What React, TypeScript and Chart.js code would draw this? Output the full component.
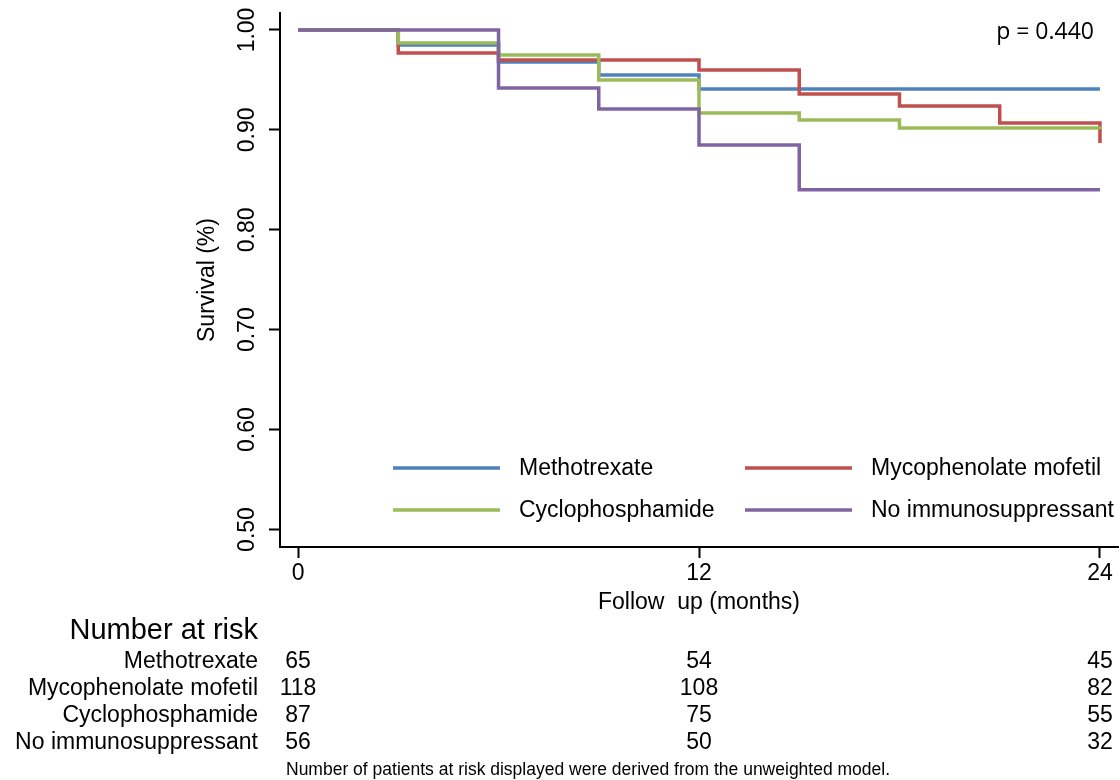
import { useEffect, useRef } from 'react';
import { Chart, registerables } from 'chart.js';

Chart.register(...registerables);

// ---- data ----
const groups = ['Methotrexate', 'Mycophenolate mofetil', 'Cyclophosphamide', 'No immunosuppressant'];
const colors = ['#4F81BD', '#C0504D', '#9BBB59', '#8064A2'];

const mtxTimes = [0, 3, 6, 9, 12, 24];
const mtxSurv = [1.0, 0.985, 0.968, 0.955, 0.941, 0.941];
const mmfTimes = [0, 3, 6, 12, 15, 18, 21, 24];
const mmfSurv = [1.0, 0.977, 0.970, 0.960, 0.936, 0.924, 0.907, 0.887];
const cycTimes = [0, 3, 6, 9, 12, 15, 18, 24];
const cycSurv = [1.0, 0.987, 0.975, 0.950, 0.917, 0.910, 0.902, 0.901];
const noneTimes = [0, 6, 9, 12, 15, 24];
const noneSurv = [1.0, 0.942, 0.921, 0.885, 0.840, 0.840];

const xTicks = [0, 12, 24];
const yTicks = [0.5, 0.6, 0.7, 0.8, 0.9, 1.0];

const riskTimes = [0, 12, 24];
const riskMtx = [65, 54, 45];
const riskMmf = [118, 108, 82];
const riskCyc = [87, 75, 55];
const riskNone = [56, 50, 32];

const pText = 'p = 0.440';
const xTitle = 'Follow  up (months)';
const yTitle = 'Survival (%)';
const riskTitle = 'Number at risk';
const footnote = 'Number of patients at risk displayed were derived from the unweighted model.';

const FONT = "'Liberation Sans', Arial, Helvetica, sans-serif";

const toPts = (t: number[], s: number[]) => t.map((x, i) => ({ x, y: s[i] }));

const overlay = {
  id: 'overlay',
  afterDraw(chart: any) {
    const ctx: CanvasRenderingContext2D = chart.ctx;
    const xs = chart.scales.x;
    ctx.save();
    ctx.fillStyle = '#000';

    // p value
    ctx.font = "23px 'Open Sans', sans-serif";
    ctx.textAlign = 'right';
    ctx.textBaseline = 'middle';
    ctx.fillText(pText, 1094, 32);

    // legend (2 columns)
    const sampleX = [393, 745];
    const textX = [519, 871];
    const rowY = [468, 510];
    ctx.font = `23px ${FONT}`;
    ctx.textAlign = 'left';
    chart.data.datasets.forEach((ds: any, i: number) => {
      const col = i % 2;
      const row = Math.floor(i / 2);
      ctx.strokeStyle = ds.borderColor;
      ctx.lineWidth = 3.5;
      ctx.beginPath();
      ctx.moveTo(sampleX[col], rowY[row]);
      ctx.lineTo(sampleX[col] + 107, rowY[row]);
      ctx.stroke();
      ctx.fillText(ds.label, textX[col], rowY[row] + 1);
    });

    // number at risk table
    ctx.textAlign = 'right';
    ctx.font = `29px ${FONT}`;
    ctx.fillText(riskTitle, 258, 631);
    const rows = [riskMtx, riskMmf, riskCyc, riskNone];
    rows.forEach((vals, i) => {
      const y = 662 + 27 * i;
      ctx.font = `23px ${FONT}`;
      ctx.textAlign = 'right';
      ctx.fillText(groups[i], 258, y);
      ctx.textAlign = 'center';
      vals.forEach((v, j) => {
        ctx.fillText(String(v), xs.getPixelForValue(riskTimes[j]), y);
      });
    });

    // footnote
    ctx.font = `17.5px ${FONT}`;
    ctx.textAlign = 'left';
    ctx.fillText(footnote, 286, 770);
    ctx.restore();
  },
};

export default function App() {
  const ref = useRef<HTMLCanvasElement>(null);
  useEffect(() => {
    const canvas = ref.current!;
    const series = [
      toPts(mtxTimes, mtxSurv),
      toPts(mmfTimes, mmfSurv),
      toPts(cycTimes, cycSurv),
      toPts(noneTimes, noneSurv),
    ];
    const chart = new Chart(canvas, {
      type: 'line',
      data: {
        datasets: series.map((d, i) => ({
          label: groups[i],
          data: d,
          borderColor: colors[i],
          backgroundColor: colors[i],
          borderWidth: 3.5,
          stepped: true,
          fill: false,
          pointRadius: 0,
          order: 4 - i,
        })),
      },
      options: {
        animation: false,
        responsive: false,
        devicePixelRatio: 1,
        layout: { padding: { left: 194, right: 2, top: 13, bottom: 164 } },
        plugins: { legend: { display: false }, tooltip: { enabled: false } },
        scales: {
          x: {
            type: 'linear',
            min: -0.54,
            max: 24.54,
            afterBuildTicks: (s: any) => {
              s.ticks = xTicks.map((v) => ({ value: v }));
            },
            afterFit: (s: any) => {
              s.height = 69;
            },
            ticks: {
              font: { family: FONT, size: 23 },
              color: '#000',
              padding: 1.5,
              maxRotation: 0,
              autoSkip: false,
            },
            grid: {
              display: true,
              drawOnChartArea: false,
              drawTicks: true,
              tickLength: 11,
              tickWidth: 2,
              tickColor: '#000',
            },
            border: { display: true, color: '#000', width: 2 },
            title: {
              display: true,
              text: xTitle,
              font: { family: FONT, size: 23 },
              color: '#000',
              padding: 0,
            },
          },
          y: {
            type: 'linear',
            min: 0.4825,
            max: 1.017,
            afterBuildTicks: (s: any) => {
              s.ticks = yTicks.map((v) => ({ value: v }));
            },
            afterFit: (s: any) => {
              s.width = 86;
            },
            ticks: {
              font: { family: FONT, size: 23 },
              color: '#000',
              padding: -1,
              minRotation: 90,
              maxRotation: 90,
              crossAlign: 'center',
              autoSkip: false,
              callback: (v: any) => Number(v).toFixed(2),
            },
            grid: {
              display: true,
              drawOnChartArea: false,
              drawTicks: true,
              tickLength: 11,
              tickWidth: 2,
              tickColor: '#000',
            },
            border: { display: true, color: '#000', width: 2 },
            title: {
              display: true,
              text: yTitle,
              font: { family: FONT, size: 23 },
              color: '#000',
              padding: 0,
            },
          },
        },
      },
      plugins: [overlay],
    } as any);
    return () => chart.destroy();
  }, []);

  return (
    <div style={{ position: 'fixed', left: 0, top: 0, width: 1120, height: 780, background: '#fff' }}>
      <canvas ref={ref} width={1120} height={780} style={{ width: 1120, height: 780, display: 'block' }} />
    </div>
  );
}
